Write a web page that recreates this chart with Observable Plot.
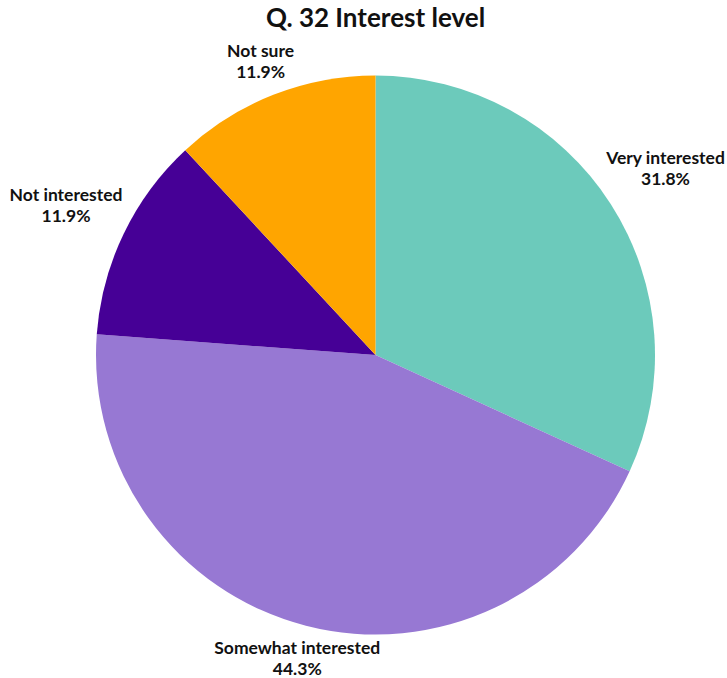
<!DOCTYPE html>
<html>
<head>
<meta charset="utf-8">
<script src="https://cdn.jsdelivr.net/npm/d3@7"></script>
<script src="https://cdn.jsdelivr.net/npm/@observablehq/plot@0.6"></script>
<style>
  html, body { margin: 0; padding: 0; background: #fff; }
  #wrap { position: relative; width: 727px; height: 678px; }
  #title { position: absolute; left: 375.5px; top: 0px; transform: translateX(-50%); white-space: nowrap;
           font: bold 26px Lato, sans-serif; color: #111; line-height: 34px; margin: 0; }
  #chart { position: absolute; left: 0; top: 0; }
</style>
</head>
<body>
<div id="wrap"><div id="chart"></div><h2 id="title">Q. 32 Interest level</h2></div>
<script>
const categories = ["Very interested", "Somewhat interested", "Not interested", "Not sure"];
const values = [31.8, 44.3, 11.9, 11.9];
const colors = ["#6CCABB", "#9778D3", "#460096", "#FFA500"];
const valueLabels = ["31.8%", "44.3%", "11.9%", "11.9%"];

const W = 727, H = 678;
const data = categories.map((c, i) => ({category: c, value: values[i], label: valueLabels[i]}));

const color = Plot.scale({color: {type: "ordinal", domain: categories, range: colors}});

const labelSize = 17.5;
const ctx = document.createElement("canvas").getContext("2d");
ctx.font = `bold ${labelSize}px Lato`;

function pieMark(index, scales, channels, dimensions) {
  const cx = 375.5, cy = 355, r = 279.5;
  const pie = d3.pie().sort(null).value(d => d.value)(data);
  const arc = d3.arc().innerRadius(0).outerRadius(r);
  const g = d3.create("svg:g").attr("transform", `translate(${cx},${cy})`);
  g.selectAll("path").data(pie).join("path")
    .attr("d", arc)
    .attr("fill", d => color.apply(d.data.category));
  const lh = 21, R = r + 4;
  for (const d of pie) {
    const a = (d.startAngle + d.endAngle) / 2;
    const ux = Math.sin(a), uy = -Math.cos(a);
    const w = Math.max(ctx.measureText(d.data.category).width, ctx.measureText(d.data.label).width);
    const h = 2 * lh;
    const ox = -Math.sign(ux) * w / 2, oy = -Math.sign(uy) * h / 2;
    const uo = ux * ox + uy * oy;
    const D = -uo + Math.sqrt(uo * uo - (ox * ox + oy * oy) + R * R);
    const bx = D * ux, by = D * uy;
    const t = g.append("text")
      .attr("text-anchor", "middle")
      .attr("font-family", "Lato, sans-serif")
      .attr("font-weight", "bold")
      .attr("font-size", labelSize + "px")
      .attr("fill", "#111");
    t.append("tspan").attr("x", bx).attr("y", by - 5).text(d.data.category);
    t.append("tspan").attr("x", bx).attr("y", by - 5 + lh).text(d.data.label);
  }
  return g.node();
}

const plot = Plot.plot({
  width: W,
  height: H,
  margin: 0,
  style: {background: "transparent", overflow: "visible"},
  marks: [pieMark]
});
document.getElementById("chart").appendChild(plot);
</script>
</body>
</html>
